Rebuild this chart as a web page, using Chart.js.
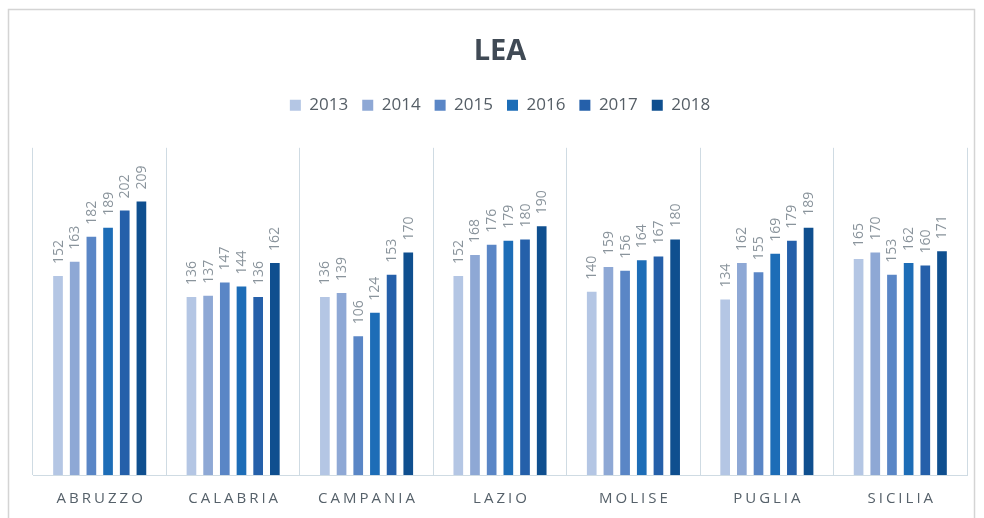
<!DOCTYPE html>
<html>
<head>
<meta charset="utf-8">
<script src="https://cdn.jsdelivr.net/npm/chart.js@4/dist/chart.umd.min.js"></script>
<style>
  html, body { margin: 0; padding: 0; background: #ffffff; }
  #wrap { width: 984px; height: 518px; }
</style>
</head>
<body>
<div id="wrap"><canvas id="c" width="984" height="518"></canvas></div>
<script>
const categories = ["ABRUZZO", "CALABRIA", "CAMPANIA", "LAZIO", "MOLISE", "PUGLIA", "SICILIA"];
const years = ["2013", "2014", "2015", "2016", "2017", "2018"];
const v2013 = [152, 136, 136, 152, 140, 134, 165];
const v2014 = [163, 137, 139, 168, 159, 162, 170];
const v2015 = [182, 147, 106, 176, 156, 155, 153];
const v2016 = [189, 144, 124, 179, 164, 169, 162];
const v2017 = [202, 136, 153, 180, 167, 179, 160];
const v2018 = [209, 162, 170, 190, 180, 189, 171];
const seriesValues = [v2013, v2014, v2015, v2016, v2017, v2018];
const colors = ["#b4c6e4", "#8ea8d5", "#5a86c6", "#1d6db7", "#2560aa", "#0f4f8f"];

const FONT = "'Open Sans', 'DejaVu Sans', sans-serif";

const frame = {
  id: 'frame',
  beforeDraw(chart) {
    const ctx = chart.ctx;
    ctx.save();
    ctx.fillStyle = '#ffffff';
    ctx.fillRect(0, 0, chart.width, chart.height);
    ctx.strokeStyle = '#d4d4d4';
    ctx.lineWidth = 1.5;
    ctx.strokeRect(8.5, 9.5, 966, 530);
    ctx.restore();
  }
};

const legendGap = {
  id: 'legendGap',
  afterInit(chart) {
    const lg = chart.legend;
    if (lg && !lg._gapPatched) {
      const fit = lg.fit;
      lg.fit = function () { fit.call(this); this.height += 24; };
      lg._gapPatched = true;
    }
  }
};

const valueLabels = {
  id: 'valueLabels',
  afterDatasetsDraw(chart) {
    const ctx = chart.ctx;
    ctx.save();
    ctx.font = "14px " + FONT;
    ctx.fillStyle = '#8a949c';
    ctx.textAlign = 'left';
    ctx.textBaseline = 'middle';
    chart.data.datasets.forEach((ds, i) => {
      const meta = chart.getDatasetMeta(i);
      meta.data.forEach((bar, j) => {
        ctx.save();
        ctx.translate(bar.x + 0.5, bar.y);
        ctx.rotate(-Math.PI / 2);
        ctx.fillText(String(ds.data[j]), 12, 0);
        ctx.restore();
      });
    });
    ctx.restore();
  }
};

const catLabels = {
  id: 'catLabels',
  afterDraw(chart) {
    const ctx = chart.ctx;
    const xs = chart.scales.x;
    ctx.save();
    ctx.font = "15px " + FONT;
    ctx.fillStyle = '#56616a';
    ctx.textAlign = 'center';
    ctx.textBaseline = 'middle';
    try { ctx.letterSpacing = '3px'; } catch (e) {}
    categories.forEach((c, i) => {
      ctx.fillText(c, xs.getPixelForValue(i) + 1.5, 499);
    });
    ctx.restore();
  }
};

new Chart(document.getElementById('c'), {
  type: 'bar',
  data: {
    labels: categories,
    datasets: years.map((y, i) => ({
      label: y,
      data: seriesValues[i],
      backgroundColor: colors[i],
      borderWidth: 0,
      categoryPercentage: 0.75,
      barPercentage: 0.58
    }))
  },
  options: {
    responsive: false,
    animation: false,
    devicePixelRatio: 1,
    layout: { padding: { left: 33, right: 17, top: 0, bottom: 43 } },
    plugins: {
      title: {
        display: true,
        text: 'LEA',
        color: '#404a55',
        font: { family: FONT, size: 29, weight: 'bold' },
        padding: { top: 34, bottom: 14 }
      },
      legend: {
        display: true,
        position: 'top',
        labels: {
          boxWidth: 11,
          boxHeight: 11,
          padding: 14,
          color: '#555e66',
          font: { family: FONT, size: 17 }
        }
      },
      tooltip: { enabled: false }
    },
    scales: {
      x: {
        ticks: { display: false },
        grid: { display: true, color: '#cfdbe3', lineWidth: 1, drawTicks: false, offset: true },
        border: { display: true, color: '#cfdbe3', width: 1 }
      },
      y: {
        display: false,
        min: 0,
        max: 250
      }
    }
  },
  plugins: [frame, legendGap, valueLabels, catLabels]
});
</script>
</body>
</html>
